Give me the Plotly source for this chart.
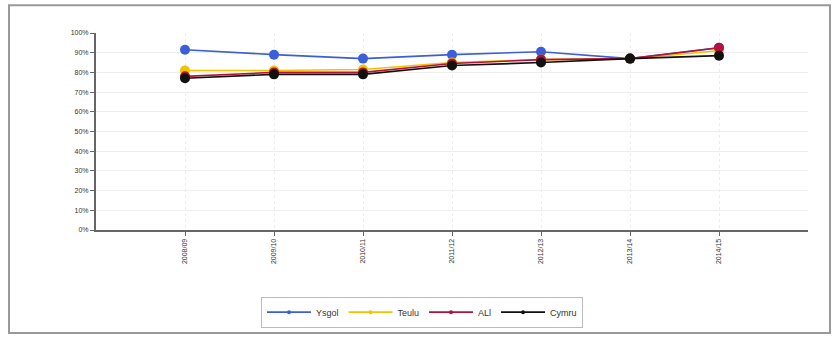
import plotly.graph_objects as go

# School years on the category axis
years = ["2008/09", "2009/10", "2010/11", "2011/12", "2012/13", "2013/14", "2014/15"]

# Attendance share (%) per series
ysgol = [91.5, 89, 87, 89, 90.5, 87, 92.5]
teulu = [81, 81, 81.5, 85, 86.5, 87, 91]
all_la = [78, 80, 80, 84.5, 86.5, 87, 92.5]
cymru = [77, 79, 79, 83.5, 85, 87, 88.5]

series = [
    ("Ysgol", ysgol, "#3a5fd9"),
    ("Teulu", teulu, "#f2c200"),
    ("ALl", all_la, "#b3123c"),
    ("Cymru", cymru, "#111111"),
]

W, H = 835, 340
L, R, T, B = 96, 27, 33, 108

fig = go.Figure()
for name, vals, col in series:
    fig.add_trace(go.Scatter(
        x=list(range(len(years))), y=vals, name=name, mode="lines+markers",
        line=dict(color=col, width=1.6),
        marker=dict(color=col, size=10),
        showlegend=False,
    ))
# Legend entries drawn with a small marker on the line
for name, vals, col in series:
    fig.add_trace(go.Scatter(
        x=[None], y=[None], name=name, mode="lines+markers",
        line=dict(color=col, width=1.6),
        marker=dict(color=col, size=4),
    ))

pw = W - L - R
ph = H - T - B


def px_x(x):
    return (x - L) / pw


def px_y(y):
    return (H - B - y) / ph


fig.update_layout(
    width=W, height=H,
    margin=dict(l=L, r=R, t=T, b=B),
    paper_bgcolor="white", plot_bgcolor="white",
    font=dict(family="Liberation Sans, Arial, sans-serif", size=7, color="#333"),
    showlegend=True,
    legend=dict(
        orientation="h", x=px_x(422), y=px_y(315), xanchor="center", yanchor="middle",
        bordercolor="#bbbbbb", borderwidth=1, bgcolor="white",
        font=dict(size=9, color="#333"), itemwidth=44, tracegroupgap=0,
    ),
    xaxis=dict(
        range=[-1, len(years)], tickmode="array",
        tickvals=list(range(len(years))), ticktext=years, tickangle=-90,
        showgrid=True, gridcolor="#ededed", griddash="dot",
        showline=True, linecolor="#666", linewidth=2,
        ticks="outside", ticklen=4, tickcolor="#666", zeroline=False,
    ),
    yaxis=dict(
        range=[0, 100], tickvals=list(range(0, 101, 10)),
        ticktext=[f"{v}%" for v in range(0, 101, 10)],
        showgrid=True, gridcolor="#eeeeee",
        showline=True, linecolor="#666", linewidth=2,
        ticks="outside", ticklen=4, tickcolor="#666", zeroline=False,
    ),
    shapes=[dict(
        type="rect", xref="paper", yref="paper",
        x0=px_x(9), x1=px_x(830), y0=px_y(336), y1=px_y(5),
        line=dict(color="#999999", width=2), layer="below",
    )],
)

fig.write_html("out.html")
